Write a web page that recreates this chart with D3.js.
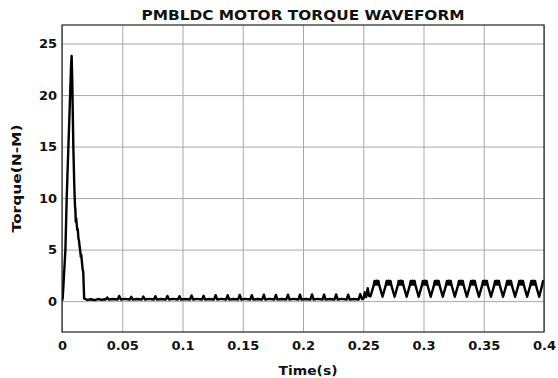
<!DOCTYPE html>
<html>
<head>
<meta charset="utf-8">
<script src="https://cdn.jsdelivr.net/npm/d3@7/dist/d3.min.js"></script>
<style>
  body { margin: 0; background: #fff; }
  svg { display: block; }
  .tick text { font-family: "DejaVu Sans", Verdana, sans-serif; font-weight: bold; font-size: 13px; fill: #111; }
  .lbl { font-family: "DejaVu Sans", Verdana, sans-serif; font-weight: bold; fill: #111; }
</style>
</head>
<body>
<svg id="chart" width="558" height="378"></svg>
<script>
// axis ticks
var xTicks = [0, 0.05, 0.1, 0.15, 0.2, 0.25, 0.3, 0.35, 0.4],
    xTickLabels = ["0", "0.05", "0.1", "0.15", "0.2", "0.25", "0.3", "0.35", "0.4"],
    yTicks = [0, 5, 10, 15, 20, 25],
    yTickLabels = ["0", "5", "10", "15", "20", "25"];

// [time (s), torque (N-M)]
var startup = [
  [0, 0], [0.0006, 0.3], [0.0018, 2.8], [0.0028, 4.9], [0.0039, 10], [0.0053, 15],
  [0.0066, 19.5], [0.0075, 22.8], [0.008, 23.8], [0.0085, 21.5], [0.0094, 15],
  [0.0102, 11.2], [0.0108, 9.2], [0.0111, 8.9], [0.0114, 7.7], [0.0118, 8.0],
  [0.0122, 7.5], [0.0127, 6.9], [0.0131, 7.0], [0.0136, 6.1], [0.0141, 5.9],
  [0.0146, 5.3], [0.015, 5.0], [0.0156, 4.3], [0.016, 4.5], [0.0166, 3.7],
  [0.0172, 3.0], [0.0176, 2.9], [0.0184, 0.25]
];

var noLoad = [
  [0.021, 0.12], [0.024, 0.18], [0.027, 0.1], [0.03, 0.2], [0.033, 0.12], [0.0355, 0.18],
  [0.0362, 0.15], [0.0375, 0.35], [0.0388, 0.14], [0.042, 0.2],
  [0.0462, 0.16], [0.0475, 0.5], [0.0488, 0.15], [0.052, 0.22],
  [0.0562, 0.15], [0.0575, 0.42], [0.0588, 0.14], [0.062, 0.2],
  [0.0662, 0.16], [0.0675, 0.45], [0.0688, 0.15], [0.072, 0.22],
  [0.0762, 0.15], [0.0775, 0.48], [0.0788, 0.14], [0.082, 0.2],
  [0.0862, 0.16], [0.0875, 0.5], [0.0888, 0.15], [0.092, 0.22],
  [0.0962, 0.15], [0.0975, 0.48], [0.0988, 0.14], [0.102, 0.2],
  [0.1062, 0.16], [0.1075, 0.55], [0.1088, 0.15], [0.112, 0.22],
  [0.1162, 0.15], [0.1175, 0.52], [0.1188, 0.14], [0.122, 0.2],
  [0.1262, 0.16], [0.1275, 0.58], [0.1288, 0.15], [0.132, 0.22],
  [0.1362, 0.15], [0.1375, 0.58], [0.1388, 0.14], [0.142, 0.2],
  [0.1462, 0.16], [0.1475, 0.6], [0.1488, 0.15], [0.152, 0.22],
  [0.1562, 0.15], [0.1575, 0.58], [0.1588, 0.14], [0.162, 0.2],
  [0.1662, 0.16], [0.1675, 0.62], [0.1688, 0.15], [0.172, 0.22],
  [0.1762, 0.15], [0.1775, 0.6], [0.1788, 0.14], [0.182, 0.2],
  [0.1862, 0.16], [0.1875, 0.62], [0.1888, 0.15], [0.192, 0.22],
  [0.1962, 0.15], [0.1975, 0.62], [0.1988, 0.14], [0.202, 0.2],
  [0.2062, 0.16], [0.2075, 0.65], [0.2088, 0.15], [0.212, 0.22],
  [0.2162, 0.15], [0.2175, 0.62], [0.2188, 0.14], [0.222, 0.2],
  [0.2262, 0.16], [0.2275, 0.65], [0.2288, 0.15], [0.232, 0.22],
  [0.2362, 0.15], [0.2375, 0.62], [0.2388, 0.14], [0.242, 0.2],
  [0.2462, 0.16], [0.2475, 0.68]
];

// load applied at 0.25 s
var loadStep = [
  [0.2491, 0.18], [0.2503, 0.25], [0.2513, 0.85], [0.2524, 0.4],
  [0.2537, 1.25], [0.2548, 0.5], [0.256, 0.45]
];

var loaded = [
  [0.2586, 1.5], [0.2594, 1.95], [0.2602, 1.6], [0.261, 1.98], [0.2618, 1.6], [0.2626, 1.95], [0.2634, 1.5], [0.266, 0.42],
  [0.2686, 1.5], [0.2694, 1.95], [0.2702, 1.6], [0.271, 1.98], [0.2718, 1.6], [0.2726, 1.95], [0.2734, 1.5], [0.276, 0.42],
  [0.2786, 1.5], [0.2794, 1.95], [0.2802, 1.6], [0.281, 1.98], [0.2818, 1.6], [0.2826, 1.95], [0.2834, 1.5], [0.286, 0.42],
  [0.2886, 1.5], [0.2894, 1.95], [0.2902, 1.6], [0.291, 1.98], [0.2918, 1.6], [0.2926, 1.95], [0.2934, 1.5], [0.296, 0.42],
  [0.2986, 1.5], [0.2994, 1.95], [0.3002, 1.6], [0.301, 1.98], [0.3018, 1.6], [0.3026, 1.95], [0.3034, 1.5], [0.306, 0.42],
  [0.3086, 1.5], [0.3094, 1.95], [0.3102, 1.6], [0.311, 1.98], [0.3118, 1.6], [0.3126, 1.95], [0.3134, 1.5], [0.316, 0.42],
  [0.3186, 1.5], [0.3194, 1.95], [0.3202, 1.6], [0.321, 1.98], [0.3218, 1.6], [0.3226, 1.95], [0.3234, 1.5], [0.326, 0.42],
  [0.3286, 1.5], [0.3294, 1.95], [0.3302, 1.6], [0.331, 1.98], [0.3318, 1.6], [0.3326, 1.95], [0.3334, 1.5], [0.336, 0.42],
  [0.3386, 1.5], [0.3394, 1.95], [0.3402, 1.6], [0.341, 1.98], [0.3418, 1.6], [0.3426, 1.95], [0.3434, 1.5], [0.346, 0.42],
  [0.3486, 1.5], [0.3494, 1.95], [0.3502, 1.6], [0.351, 1.98], [0.3518, 1.6], [0.3526, 1.95], [0.3534, 1.5], [0.356, 0.42],
  [0.3586, 1.5], [0.3594, 1.95], [0.3602, 1.6], [0.361, 1.98], [0.3618, 1.6], [0.3626, 1.95], [0.3634, 1.5], [0.366, 0.42],
  [0.3686, 1.5], [0.3694, 1.95], [0.3702, 1.6], [0.371, 1.98], [0.3718, 1.6], [0.3726, 1.95], [0.3734, 1.5], [0.376, 0.42],
  [0.3786, 1.5], [0.3794, 1.95], [0.3802, 1.6], [0.381, 1.98], [0.3818, 1.6], [0.3826, 1.95], [0.3834, 1.5], [0.386, 0.42],
  [0.3886, 1.5], [0.3894, 1.95], [0.3902, 1.6], [0.391, 1.98], [0.3918, 1.6], [0.3926, 1.95], [0.3934, 1.5], [0.396, 0.42],
  [0.3984, 1.5], [0.3992, 1.95], [0.4, 1.7]
];

var margin = {top: 25, right: 14, bottom: 46, left: 62},
    width = 558 - margin.left - margin.right,
    height = 378 - margin.top - margin.bottom;

var svg = d3.select("#chart");
var g = svg.append("g").attr("transform", `translate(${margin.left},${margin.top})`);

var x = d3.scaleLinear().domain([0, 0.4]).range([0, width]),
    y = d3.scaleLinear().domain([-3, 26.8]).range([height, 0]);

//
// grid + tick labels
var xAxis = d3.axisBottom(x).tickValues(xTicks)
  .tickFormat((d, i) => xTickLabels[i]).tickSize(-height).tickPadding(9);
var yAxis = d3.axisLeft(y).tickValues(yTicks)
  .tickFormat((d, i) => yTickLabels[i]).tickSize(-width).tickPadding(5);

g.append("g").attr("transform", `translate(0,${height})`).call(xAxis)
  .call(s => s.select(".domain").remove())
  .call(s => s.selectAll(".tick line").attr("stroke", "#a8a8a8"));
g.append("g").call(yAxis)
  .call(s => s.select(".domain").remove())
  .call(s => s.selectAll(".tick line").attr("stroke", "#a8a8a8"));

g.append("clipPath").attr("id", "clip")
  .append("rect").attr("width", width).attr("height", height);

//
// torque trace
var trace = startup.concat(noLoad, loadStep, loaded);
var line = d3.line().x(d => x(d[0])).y(d => y(d[1]));

g.append("path")
  .datum(trace)
  .attr("clip-path", "url(#clip)")
  .attr("fill", "none")
  .attr("stroke", "#000")
  .attr("stroke-width", 2.4)
  .attr("stroke-linejoin", "round")
  .attr("d", line);

// axes box
g.append("rect").attr("width", width).attr("height", height)
  .attr("fill", "none").attr("stroke", "#222").attr("stroke-width", 1.2);

//
// labels
svg.append("text").attr("class", "lbl")
  .attr("x", margin.left + width / 2).attr("y", 20)
  .attr("text-anchor", "middle").attr("font-size", 13.5)
  .attr("textLength", 323).attr("lengthAdjust", "spacingAndGlyphs")
  .text("PMBLDC MOTOR TORQUE WAVEFORM");

svg.append("text").attr("class", "lbl")
  .attr("x", margin.left + width / 2 + 5).attr("y", 375)
  .attr("text-anchor", "middle").attr("font-size", 12.5)
  .attr("textLength", 59).attr("lengthAdjust", "spacingAndGlyphs")
  .text("Time(s)");

svg.append("text").attr("class", "lbl")
  .attr("transform", `translate(21,${margin.top + height / 2}) rotate(-90)`)
  .attr("text-anchor", "middle").attr("font-size", 12.5)
  .attr("textLength", 108).attr("lengthAdjust", "spacingAndGlyphs")
  .text("Torque(N-M)");
</script>
</body>
</html>
